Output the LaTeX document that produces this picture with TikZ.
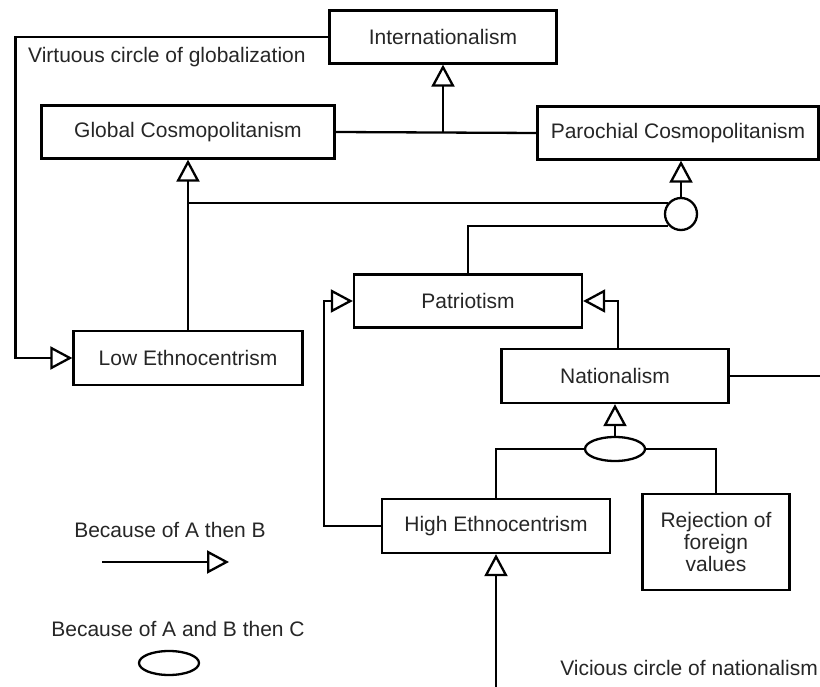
\documentclass[tikz,border=0pt]{standalone}
\usepackage{fontspec}
\setmainfont{Liberation Sans}
\usetikzlibrary{arrows.meta, positioning, shapes.geometric, calc}

\begin{document}
\begin{tikzpicture}[x=1pt, y=-1pt,
    line width=2.3pt,
    every node/.style={font=\fontsize{21}{22}\selectfont, text=black!85},
    concept/.style={draw, line width=2.3pt, minimum height=53pt, inner sep=0pt},
    arr/.style={-{Triangle[open, length=22pt, width=23pt, line width=2.3pt]}},
    joint/.style={draw, line width=2.3pt, ellipse, minimum width=60pt, minimum height=24pt, inner sep=0pt}]
    \useasboundingbox (0,0) rectangle (820,687);

    % concepts
    \node[concept, minimum width=227pt] (intl) at (443,37) {Internationalism};
    \node[concept, minimum width=293pt] (glob) at (188,132) {Global Cosmopolitanism};
    \node[concept, minimum width=281pt] (paro) at (678,133) {Parochial Cosmopolitanism};
    \node[concept, minimum width=229pt, minimum height=54pt] (low) at (188,358) {Low Ethnocentrism};
    \node[concept, minimum width=228pt] (patr) at (468,301) {Patriotism};
    \node[concept, minimum width=227pt, minimum height=54pt] (nat) at (615,376) {Nationalism};
    \node[concept, minimum width=228pt, minimum height=54pt] (high) at (496,526) {High Ethnocentrism};
    \node[concept, minimum width=147pt, minimum height=96pt, align=center] (rej) at (716,542) {Rejection of\\foreign\\values};

    % junctions
    \node[draw, circle, line width=2.3pt, minimum size=32pt, inner sep=0pt] (orc) at (681,214) {};
    \node[joint] (andn) at (615,449) {};

    % labels
    \node[anchor=west, inner sep=0pt] (virt) at (27,57) {Virtuous circle of globalization};
    \node[anchor=east, inner sep=0pt] (vic) at (819,668) {Vicious circle of nationalism};
    \node[inner sep=0pt] (leg1) at (170,530) {Because of A then B};
    \node[inner sep=0pt] (leg2) at (178,629) {Because of A and B then C};
    \node[joint] (legand) at (169,663) {};

    \coordinate (j1) at (intl.south |- glob.east);
    \coordinate (j2) at (low.north |- orc.141);
    \coordinate (natout) at (820,376);
    \coordinate (vin) at (496,687);
    \coordinate (lega) at (102,562);
    \coordinate (legb) at (229,562);

    % connectors
    \draw (glob.east) -- (paro.west);
    \draw[arr] (j1) -- (intl.south);
    \draw[arr] (intl.west) -- ++(-313,0) |- (low.west);
    \draw[arr] (low.north) -- (glob.south);
    \draw (j2) -- (orc.141);
    \draw (orc.223) -| (patr.north);
    \draw[arr] (orc.north) -- (orc.north |- paro.south);
    \draw[arr] (high.west) -- ++(-57,0) |- (patr.west);
    \draw[arr] ([xshift=3pt]nat.north) |- (patr.east);
    \draw (nat.east) -- (natout);
    \draw[arr] (andn.north) -- (nat.south);
    \draw (andn.west) -| (high.north);
    \draw (andn.east) -| (rej.north);
    \draw[arr] (vin) -- (high.south);
    \draw[arr] (lega) -- (legb);
\end{tikzpicture}
\end{document}
